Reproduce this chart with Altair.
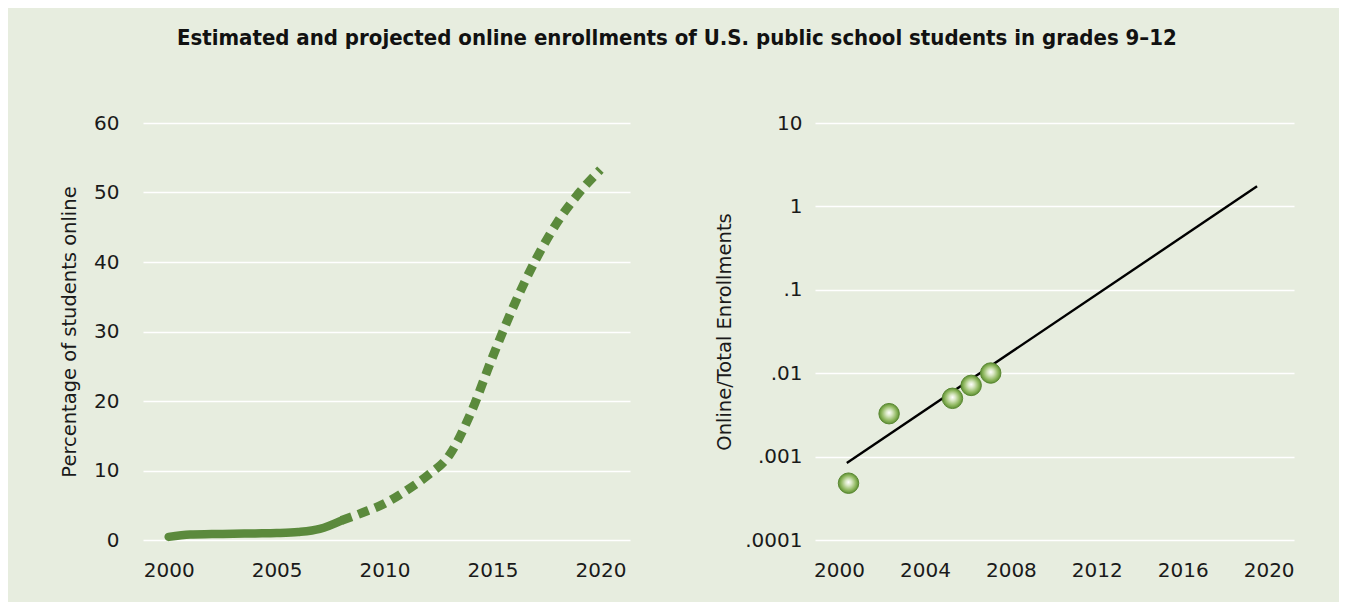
import altair as alt
import pandas as pd

# ---------------- data ----------------
# Left panel: estimated (solid) and projected (dashed) percentage of students online
est_years = [2000, 2001, 2002, 2003, 2004, 2005, 2006, 2007, 2008]
est_pct = [0.45, 0.8, 0.85, 0.9, 0.95, 1.0, 1.15, 1.6, 2.8]

proj_years = [2008, 2009, 2010, 2011, 2012, 2013, 2014, 2015, 2016, 2017, 2018, 2019, 2020]
proj_pct = [2.8, 3.95, 5.25, 7.1, 9.3, 12.2, 18.3, 26.3, 33.8, 40.3, 45.7, 49.9, 53.3]

# Right panel: observed ratios (points) and fitted trend (line)
obs_years = [2000.44, 2002.33, 2005.28, 2006.15, 2007.06]
obs_ratio = [0.00048, 0.00327, 0.0050, 0.00714, 0.01005]

trend_years = [2000.36, 2019.46]
trend_ratio = [0.000838, 1.74]

left_xticks = [2000, 2005, 2010, 2015, 2020]
left_yticks = [0, 10, 20, 30, 40, 50, 60]
right_xticks = [2000, 2004, 2008, 2012, 2016, 2020]
right_yticks = [0.0001, 0.001, 0.01, 0.1, 1, 10]

TITLE = "Estimated and projected online enrollments of U.S. public school students in grades 9\u201312"

# ---------------- styles ----------------
GREEN = "#5b8a3c"
BG = "#e7eddf"
TXT = "#1a1a1a"
FONT = "DejaVu Sans"

df_est = pd.DataFrame({"year": est_years, "pct": est_pct})
df_proj = pd.DataFrame({"year": proj_years, "pct": proj_pct})
df_obs = pd.DataFrame({"year": obs_years, "ratio": obs_ratio})
df_trend = pd.DataFrame({"year": trend_years, "ratio": trend_ratio})

xl = alt.X(
    "year:Q",
    scale=alt.Scale(domain=[1998.81, 2021.37], nice=False, zero=False),
    axis=alt.Axis(values=left_xticks, format="d", title=None, grid=False),
)
yl = alt.Y(
    "pct:Q",
    scale=alt.Scale(domain=[0, 60], nice=False),
    axis=alt.Axis(
        values=left_yticks,
        title="Percentage of students online",
        labelPadding=24,
        titlePadding=14,
    ),
)

solid = alt.Chart(df_est).mark_line(
    color=GREEN, strokeWidth=8.5, strokeCap="round", interpolate="monotone"
).encode(x=xl, y=yl)

dashed = alt.Chart(df_proj).mark_line(
    color=GREEN, strokeWidth=9, strokeCap="butt", strokeDash=[11, 7], interpolate="monotone"
).encode(x=xl, y=yl)

left = alt.layer(solid, dashed).properties(width=487, height=417)

xr = alt.X(
    "year:Q",
    scale=alt.Scale(domain=[1998.88, 2021.18], nice=False, zero=False),
    axis=alt.Axis(values=right_xticks, format="d", title=None, grid=False),
)
yr = alt.Y(
    "ratio:Q",
    scale=alt.Scale(type="log", domain=[0.0001, 10], nice=False),
    axis=alt.Axis(
        values=right_yticks,
        title="Online/Total Enrollments",
        labelExpr="datum.value < 1 ? replace(format(datum.value, '~g'), '0.', '.') : format(datum.value, '~g')",
        labelPadding=13,
        titlePadding=10,
    ),
)

ball = alt.Gradient(
    gradient="radial",
    x1=0.5, y1=0.45, r1=0.0,
    x2=0.5, y2=0.5, r2=0.5,
    stops=[
        alt.GradientStop(color="#ffffff", offset=0.0),
        alt.GradientStop(color="#d9e7c4", offset=0.3),
        alt.GradientStop(color="#8fb85f", offset=0.72),
        alt.GradientStop(color="#5e8f34", offset=1.0),
    ],
)

trend = alt.Chart(df_trend).mark_line(color="#000000", strokeWidth=2.4).encode(x=xr, y=yr)
pts = alt.Chart(df_obs).mark_point(
    shape="circle", filled=True, size=420, fill=ball, stroke="#5a8832", strokeWidth=1, opacity=1
).encode(x=xr, y=yr)

right = alt.layer(trend, pts).properties(width=479, height=417)

chart = (
    alt.hconcat(left, right, spacing=84)
    .properties(
        title=alt.TitleParams(
            TITLE,
            font="DejaVu Sans Condensed, Liberation Sans, DejaVu Sans",
            fontSize=22,
            fontWeight="bold",
            color="#111111",
            anchor="middle",
            offset=63.5,
        ),
        padding={"left": 51, "top": 18, "right": 44, "bottom": 22},
    )
    .configure(background=BG)
    .configure_view(stroke=None)
    .configure_axis(
        domain=False,
        ticks=False,
        tickSize=0,
        labelFont=FONT,
        labelFontSize=20,
        labelColor=TXT,
        titleFont=FONT,
        titleFontSize=19.5,
        titleFontWeight="normal",
        titleColor=TXT,
        gridColor="#ffffff",
        gridWidth=1.5,
        gridOpacity=1,
    )
    .configure_axisX(labelPadding=20)
)

chart.save("out.html", embed_options={"renderer": "svg", "actions": False})
